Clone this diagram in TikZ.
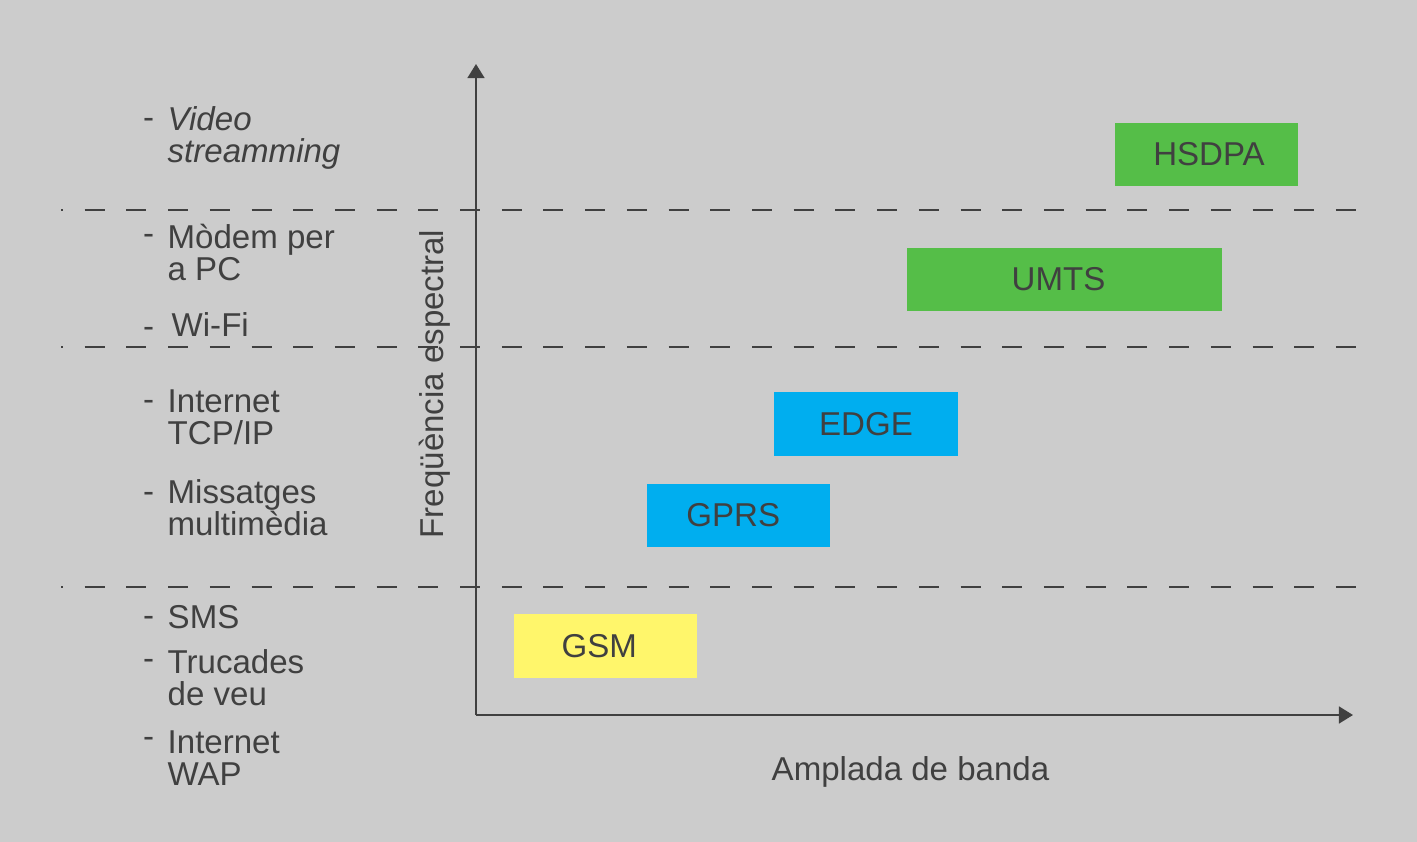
\documentclass[tikz,border=0pt]{standalone}
\usepackage{fontspec}
\setmainfont{Liberation Sans}
\usepackage{tikz}
\usetikzlibrary{arrows.meta}
\definecolor{bggray}{RGB}{204,204,204}
\definecolor{ink}{RGB}{64,64,64}
\definecolor{umtsgreen}{RGB}{85,190,72}
\definecolor{gprsblue}{RGB}{0,174,239}
\definecolor{gsmyellow}{RGB}{255,246,107}
\newcommand{\lbl}{\fontsize{9.4pt}{9.1pt}\selectfont}

\begin{document}
\begin{tikzpicture}[x=0.01cm,y=-0.01cm,
        every node/.style={inner sep=0pt,text=ink,font=\lbl},
        bandbox/.style={minimum width=1.83cm,minimum height=0.635cm},
        levelline/.style={ink,line width=0.57pt,dash pattern=on 5.69pt off 6.17pt,dash phase=5.12pt},
        axisline/.style={ink,line width=0.57pt,-{Triangle[length=4pt,width=4.8pt]}}]
                \fill[bggray] (0,0) rectangle (1417,842);
                \coordinate (o) at (476,715);
                \coordinate (ytip) at (476,64);
                \coordinate (xtip) at (1353,715);
                \draw[axisline] (o) -- (ytip);
                \draw[axisline] (o) -- (xtip);
                \draw[levelline] (61,210) -- (1357,210);
                \draw[levelline] (61,347) -- (1357,347);
                \draw[levelline] (61,587) -- (1357,587);

                \node[bandbox,fill=umtsgreen] (hsdpa) at (1206.5,154.5) {\hspace*{0.05cm}HSDPA};
                \node[bandbox,fill=umtsgreen,minimum width=3.15cm] (umts) at (1064.5,279.3) {\hspace*{-0.12cm}UMTS};
                \node[bandbox,fill=gprsblue] (edge) at (866,424) {EDGE};
                \node[bandbox,fill=gprsblue] (gprs) at (738.3,515.3) {\hspace*{-0.1cm}GPRS};
                \node[bandbox,fill=gsmyellow] (gsm) at (605.3,646) {\hspace*{-0.12cm}GSM};

                \node[anchor=base west,rotate=90] (freq) at (443,539) {Freqüència espectral};
                \node[anchor=base] (bw) at (910.5,780.7) {Amplada de banda};

                \node[anchor=base west] (dvideo) at (142.5,128) {-};
                \node[anchor=base west] (dmodem) at (142.5,244) {-};
                \node[anchor=base west] (dwifi) at (142.5,337) {-};
                \node[anchor=base west] (dtcpip) at (142.5,410) {-};
                \node[anchor=base west] (dmms) at (142.5,502) {-};
                \node[anchor=base west] (dsms) at (142.5,626) {-};
                \node[anchor=base west] (dcalls) at (142.5,669) {-};
                \node[anchor=base west] (dwap) at (142.5,747) {-};

                \node[anchor=base west,align=left,font=\lbl\itshape] (video) at (167,162.7) {Video\\streamming};
                \node[anchor=base west,align=left] (modem) at (167,280) {Mòdem per\\a PC};
                \node[anchor=base west] (wifi) at (171,336.7) {Wi-Fi};
                \node[anchor=base west,align=left] (tcpip) at (167,444) {Internet\\TCP/IP};
                \node[anchor=base west,align=left] (mms) at (167,535) {Missatges\\multimèdia};
                \node[anchor=base west] (sms) at (167,628.3) {SMS};
                \node[anchor=base west,align=left] (calls) at (167,705) {Trucades\\de veu};
                \node[anchor=base west,align=left] (wap) at (167,785) {Internet\\WAP};
            \end{tikzpicture}
\end{document}
